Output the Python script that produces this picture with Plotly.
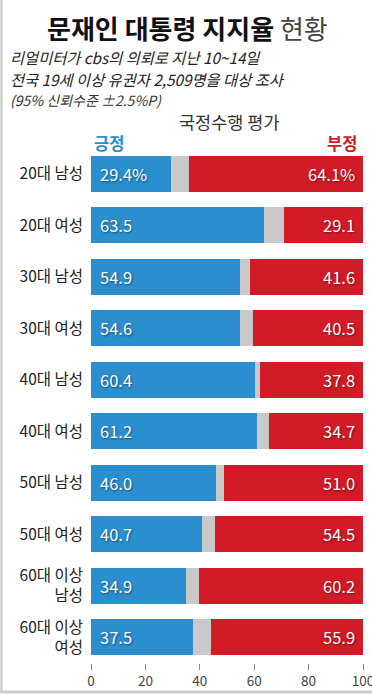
import plotly.graph_objects as go

categories = ["20대 남성", "20대 여성", "30대 남성", "30대 여성", "40대 남성",
              "40대 여성", "50대 남성", "50대 여성", "60대 이상<br>남성", "60대 이상<br>여성"]
positive = [29.4, 63.5, 54.9, 54.6, 60.4, 61.2, 46.0, 40.7, 34.9, 37.5]
undecided = [6.5, 7.4, 3.5, 4.9, 1.8, 4.1, 3.0, 4.8, 4.9, 6.6]
negative = [64.1, 29.1, 41.6, 40.5, 37.8, 34.7, 51.0, 54.5, 60.2, 55.9]
pos_labels = ["29.4%", "63.5", "54.9", "54.6", "60.4", "61.2", "46.0", "40.7", "34.9", "37.5"]
neg_labels = ["64.1%", "29.1", "41.6", "40.5", "37.8", "34.7", "51.0", "54.5", "60.2", "55.9"]
x_ticks = [0, 20, 40, 60, 80, 100]

FONT = "Noto Sans CJK KR"
BLUE = "#2a8ecf"
RED = "#d21b27"
GRAY = "#c9c9c9"

W, H = 372, 695
L, R, T, B = 91, 9, 148, 32
PW, PH = W - L - R, H - T - B

def px(x):
    return (x - L) / PW

def py(y):
    return (H - B - y) / PH

fig = go.Figure()
fig.add_trace(go.Bar(y=categories, x=positive, orientation="h", marker=dict(color=BLUE, line=dict(width=0)),
                     name="긍정", hoverinfo="skip"))
fig.add_trace(go.Bar(y=categories, x=undecided, orientation="h", marker=dict(color=GRAY, line=dict(width=0)),
                     name="기타", hoverinfo="skip"))
fig.add_trace(go.Bar(y=categories, x=negative, orientation="h", marker=dict(color=RED, line=dict(width=0)),
                     name="부정", hoverinfo="skip"))

annotations = []
shadow = "1px 1px 2px rgba(0,0,0,0.45)"
for cat, pl, nl in zip(categories, pos_labels, neg_labels):
    annotations.append(dict(x=0, y=cat, xref="x", yref="y", text=pl, showarrow=False,
                            xanchor="left", xshift=7,
                            font=dict(family=FONT, size=16.5, color="white", shadow=shadow)))
    annotations.append(dict(x=100, y=cat, xref="x", yref="y", text=nl, showarrow=False,
                            xanchor="right", xshift=-6,
                            font=dict(family=FONT, size=16.5, color="white", shadow=shadow)))

annotations += [
    dict(x=px(187), y=py(27), xref="paper", yref="paper", showarrow=False, xanchor="center", yanchor="middle",
         text="<b>문재인 대통령 지지율</b> <span style='color:#444'>현황</span>",
         font=dict(family=FONT, size=26, color="#111")),
    dict(x=px(8), y=py(57), xref="paper", yref="paper", showarrow=False, xanchor="left", yanchor="middle",
         text="<i>리얼미터가 cbs의 의뢰로 지난 10~14일</i>",
         font=dict(family=FONT, size=15.3, color="#222")),
    dict(x=px(8), y=py(79), xref="paper", yref="paper", showarrow=False, xanchor="left", yanchor="middle",
         text="<i>전국 19세 이상 유권자 2,509명을 대상 조사</i>",
         font=dict(family=FONT, size=15.3, color="#222")),
    dict(x=px(8), y=py(100), xref="paper", yref="paper", showarrow=False, xanchor="left", yanchor="middle",
         text="<i>(95% 신뢰수준 ±2.5%P)</i>",
         font=dict(family=FONT, size=14, color="#333")),
    dict(x=px(229), y=py(122), xref="paper", yref="paper", showarrow=False, xanchor="center", yanchor="middle",
         text="국정수행 평가",
         font=dict(family=FONT, size=17.5, color="#333")),
    dict(x=px(92), y=py(143), xref="paper", yref="paper", showarrow=False, xanchor="left", yanchor="middle",
         text="<b>긍정</b>",
         font=dict(family=FONT, size=16.5, color=BLUE)),
    dict(x=px(359), y=py(143), xref="paper", yref="paper", showarrow=False, xanchor="right", yanchor="middle",
         text="<b>부정</b>",
         font=dict(family=FONT, size=16.5, color=RED)),
]

shapes = [
    dict(type="line", xref="paper", yref="paper", x0=px(1.5), x1=px(1.5), y0=py(0), y1=py(692),
         line=dict(color="#cfcfcf", width=2.5)),
    dict(type="line", xref="paper", yref="paper", x0=px(0), x1=px(372), y0=py(692), y1=py(692),
         line=dict(color="#cfcfcf", width=3)),
]

fig.update_layout(
    width=W, height=H,
    margin=dict(l=L, r=R, t=T, b=B, autoexpand=False),
    paper_bgcolor="white", plot_bgcolor="white",
    barmode="stack", bargap=0.3,
    showlegend=False,
    annotations=annotations,
    shapes=shapes,
    font=dict(family=FONT),
    xaxis=dict(range=[0, 100], tickvals=x_ticks, ticks="outside", ticklen=6, tickcolor="#888",
               showgrid=False, zeroline=False, showline=False, automargin=False,
               ticklabeloverflow="allow",
               tickfont=dict(family=FONT, size=13.5, color="#444"), fixedrange=True),
    yaxis=dict(autorange="reversed", showgrid=False, zeroline=False, showline=False, ticks="",
               ticklabelstandoff=7, automargin=False,
               tickfont=dict(family=FONT, size=15.5, color="#222"), fixedrange=True),
)

fig.write_html("out.html", config={"displayModeBar": False},
               post_script="document.body.style.margin='0';document.body.style.overflow='hidden';")
